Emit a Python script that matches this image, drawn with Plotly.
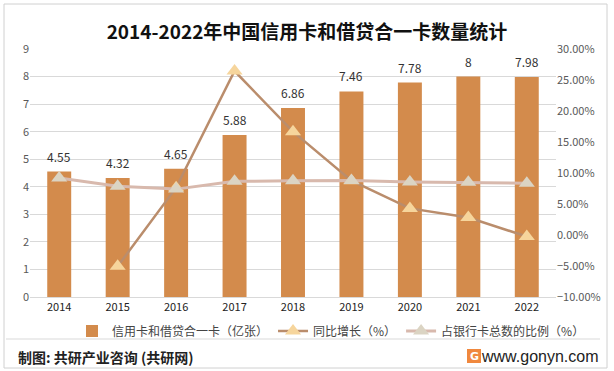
import plotly.graph_objects as go

years = [2014, 2015, 2016, 2017, 2018, 2019, 2020, 2021, 2022]
cards = [4.55, 4.32, 4.65, 5.88, 6.86, 7.46, 7.78, 8.00, 7.98]
card_labels = ["4.55", "4.32", "4.65", "5.88", "6.86", "7.46", "7.78", "8", "7.98"]
growth = [None, -0.0505, 0.0764, 0.2645, 0.1667, 0.0875, 0.0429, 0.0283, -0.0025]
ratio = [0.092, 0.0785, 0.074, 0.0865, 0.0875, 0.088, 0.0855, 0.085, 0.0835]
left_ticks = [0, 1, 2, 3, 4, 5, 6, 7, 8, 9]
right_ticks = [-0.10, -0.05, 0.0, 0.05, 0.10, 0.15, 0.20, 0.25, 0.30]

FONT = "Noto Sans CJK SC"

fig = go.Figure()
fig.add_trace(go.Bar(
    x=years, y=cards, name="信用卡和借贷合一卡（亿张）",
    marker=dict(color="#D38B4C", line=dict(width=0)), width=0.41,
))
fig.add_trace(go.Scatter(
    x=years, y=growth, name="同比增长（%）", yaxis="y2", mode="lines+markers",
    line=dict(color="#BA8D6C", width=2.5),
    marker=dict(symbol="triangle-up", size=14, color="#F6D59C"),
))
fig.add_trace(go.Scatter(
    x=years, y=ratio, name="占银行卡总数的比例（%）", yaxis="y2", mode="lines+markers",
    line=dict(color="#D8B9AD", width=3),
    marker=dict(symbol="triangle-up", size=14, color="#DBD4C3"),
))

annotations = []
for yr, v, lab in zip(years, cards, card_labels):
    annotations.append(dict(x=yr, y=v, xref="x", yref="y", text=lab, showarrow=False,
                            yanchor="bottom", yshift=5,
                            font=dict(family=FONT, size=12, color="#333333")))

# pixel -> paper helpers (plot area x 30..556, y 49..297)
def to_px(xp):
    return (xp - 30) / 526.0

def to_py(yp):
    return (297 - yp) / 248.0

annotations.append(dict(x=to_px(16), y=to_py(357), xref="paper", yref="paper", xanchor="left",
                        yanchor="middle", showarrow=False, text="<b>制图: 共研产业咨询 (共研网)</b>",
                        font=dict(family=FONT, size=14, color="#222222")))
annotations.append(dict(x=to_px(601), y=to_py(356), xref="paper", yref="paper", xanchor="right",
                        yanchor="middle", showarrow=False, text="www.gonyn.com",
                        font=dict(family="Liberation Sans", size=16, color="#222222")))
annotations.append(dict(x=to_px(474), y=to_py(356.5), xref="paper", yref="paper", xanchor="center",
                        yanchor="middle", showarrow=False, text="<b>G</b>",
                        font=dict(family="DejaVu Sans", size=11, color="#FFFFFF")))

shapes = [
    dict(type="rect", xref="paper", yref="paper", x0=to_px(4), x1=to_px(607), y0=to_py(368), y1=to_py(4),
         line=dict(color="#D0D0D0", width=1), fillcolor="rgba(0,0,0,0)", layer="below"),
    dict(type="line", xref="paper", yref="paper", x0=to_px(6), x1=to_px(600), y0=to_py(339), y1=to_py(339),
         line=dict(color="#D9D9D9", width=1)),
    dict(type="rect", xref="paper", yref="paper", x0=to_px(467), x1=to_px(481), y0=to_py(363), y1=to_py(349),
         line=dict(width=0), fillcolor="#F0883E"),
]

fig.update_layout(
    width=614, height=371,
    margin=dict(l=30, r=58, t=49, b=74),
    paper_bgcolor="white", plot_bgcolor="white",
    title=dict(text="<b>2014-2022年中国信用卡和借贷合一卡数量统计</b>", x=0.5, xanchor="center",
               y=1 - 32 / 371, yanchor="middle",
               font=dict(family=FONT, size=19, color="#111111")),
    font=dict(family=FONT),
    showlegend=True,
    legend=dict(orientation="h", x=to_px(331), xanchor="center", y=to_py(331), yanchor="middle",
                font=dict(family=FONT, size=12, color="#444444"), itemwidth=30,
                bgcolor="rgba(0,0,0,0)"),
    xaxis=dict(range=[years[0] - 0.5, years[-1] + 0.5], tickvals=years, showgrid=False,
               showline=True, linecolor="#D9D9D9", zeroline=False,
               ticks="", tickfont=dict(family=FONT, size=11, color="#222222")),
    yaxis=dict(range=[0, 9], tickvals=left_ticks, showgrid=True, gridcolor="#D9D9D9",
               zeroline=False, ticks="", tickfont=dict(family=FONT, size=11, color="#595959")),
    yaxis2=dict(range=[-0.10, 0.30], tickvals=right_ticks, tickformat=".2%", overlaying="y",
                side="right", showgrid=False, zeroline=False, ticks="",
                tickfont=dict(family=FONT, size=11, color="#595959")),
    annotations=annotations,
    shapes=shapes,
)

fig.write_html("out.html", config={"displayModeBar": False},
               post_script="document.body.style.margin='0';")
